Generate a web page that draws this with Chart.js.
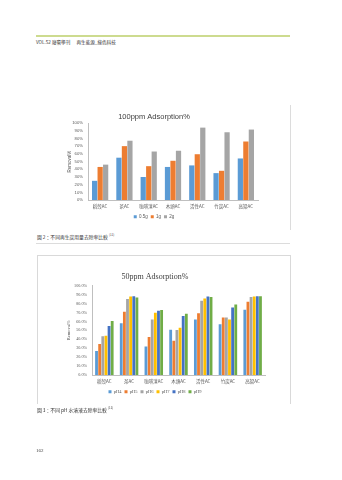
<!DOCTYPE html>
<html>
<head>
<meta charset="utf-8">
<script src="https://cdn.jsdelivr.net/npm/chart.js@4"></script>
<style>
  body { margin: 0; background: #fff; width: 342px; height: 480px; position: relative; overflow: hidden; font-family: "Noto Sans CJK TC", "Noto Sans", sans-serif; }
  .abs { position: absolute; }
  .hdr-line { left: 36px; top: 35px; width: 254px; height: 2px; background: #cddb8f; }
  .hdr { left: 36px; top: 39px; font-size: 4.6px; color: #333; white-space: nowrap; }
  .cap { font-size: 4.8px; color: #333; white-space: nowrap; }
  .cap sup { font-size: 3px; }
  .box2 { left: 37px; top: 255px; width: 252px; height: 148px; border: 1px solid #d9d9d9; border-bottom: none; }
  .vline1 { left: 290px; top: 105px; width: 1px; height: 125px; background: #dcdcdc; }
  .hline1 { left: 36px; top: 243px; width: 254px; height: 1px; background: #dcdcdc; }
  .pg { left: 36px; top: 448px; font-size: 5px; color: #444; font-family: "Liberation Serif", serif; }
</style>
</head>
<body>
<div class="abs hdr-line"></div>
<div class="abs hdr">VOL.52 廢棄學刊 &nbsp;&nbsp;&nbsp;&nbsp; 再生能源_綠色科技</div>

<div class="abs vline1"></div>
<div class="abs" style="left:50px;top:104px;width:228px;height:128px;"><canvas id="chart1"></canvas></div>
<div class="abs cap" style="left:37px;top:233px;">圖 2：不同再生炭用量去除率比較 <sup>[11]</sup></div>
<div class="abs hline1"></div>

<div class="abs box2"></div>
<div class="abs" style="left:45px;top:262px;width:238px;height:145px;"><canvas id="chart2"></canvas></div>
<div class="abs cap" style="left:37px;top:406px;">圖 3：不同 pH 水溶液去除率比較 <sup>[11]</sup></div>

<div class="abs pg">162</div>

<script>
const categories = ["稻殼AC", "茶AC", "咖啡渣AC", "木頭AC", "活性AC", "竹炭AC", "高粱AC"];

// chart 1: 100ppm, by dosage
const dose05 = [25, 55, 30, 43, 45, 35, 54];
const dose1 = [43, 70, 44, 51, 59.5, 38, 76];
const dose2 = [46, 77, 63, 64, 94, 88, 91.5];

// chart 2: 50ppm, by pH
const ph4 = [27, 58, 32, 50.7, 62, 56.7, 73];
const ph5 = [34.8, 70.7, 42.6, 38.5, 69, 64.4, 82];
const ph6 = [43.3, 85, 62, 50.4, 83, 64.4, 87.4];
const ph7 = [44, 87.8, 69.6, 53, 85.5, 62, 87.8];
const ph8 = [54.8, 88, 72, 66, 87.8, 75.5, 88];
const ph9 = [60.4, 86.7, 72.6, 68.5, 87.4, 79, 88];

const tickGray = "#595959";

function legendOpts(fam) {
  return {
    position: "bottom",
    labels: { boxWidth: 3, boxHeight: 3, padding: 3, color: tickGray, font: { size: 4.5, family: fam } }
  };
}

new Chart("chart1", {
  type: "bar",
  data: {
    labels: categories,
    datasets: [
      { label: "0.5g", data: dose05, backgroundColor: "#5b9bd5" },
      { label: "1g", data: dose1, backgroundColor: "#ed7d31" },
      { label: "2g", data: dose2, backgroundColor: "#a5a5a5" }
    ]
  },
  options: {
    responsive: true,
    maintainAspectRatio: false,
    animation: false,
    datasets: { bar: { categoryPercentage: 0.68, barPercentage: 0.95 } },
    layout: { padding: { right: 20, bottom: 3 } },
    plugins: {
      title: { display: true, text: "100ppm Adsorption%", color: "#404040", font: { size: 7.5, family: "Liberation Sans", weight: "normal" }, padding: { top: 8, bottom: 2 } },
      legend: legendOpts("Liberation Sans"),
      tooltip: { enabled: false }
    },
    scales: {
      x: {
        grid: { display: false, drawTicks: false },
        border: { color: "#bfbfbf" },
        ticks: { color: tickGray, font: { size: 4.5, family: "Noto Sans CJK TC" }, padding: 3, maxRotation: 0, autoSkip: false }
      },
      y: {
        min: 0, max: 100,
        afterFit: s => { s.width = 38; },
        grid: { display: false, drawTicks: false },
        border: { color: "#bfbfbf" },
        ticks: { stepSize: 10, autoSkip: false, color: tickGray, font: { size: 4.2, family: "Liberation Sans" }, padding: 5, callback: v => v + "%" },
        title: { display: true, text: "Removal%", color: tickGray, font: { size: 4.5, family: "Liberation Sans" }, padding: { top: 17, bottom: 0 } }
      }
    }
  }
});

new Chart("chart2", {
  type: "bar",
  data: {
    labels: categories,
    datasets: [
      { label: "pH4", data: ph4, backgroundColor: "#5b9bd5" },
      { label: "pH5", data: ph5, backgroundColor: "#ed7d31" },
      { label: "pH6", data: ph6, backgroundColor: "#a5a5a5" },
      { label: "pH7", data: ph7, backgroundColor: "#ffc000" },
      { label: "pH8", data: ph8, backgroundColor: "#4472c4" },
      { label: "pH9", data: ph9, backgroundColor: "#70ad47" }
    ]
  },
  options: {
    responsive: true,
    maintainAspectRatio: false,
    animation: false,
    datasets: { bar: { categoryPercentage: 0.76, barPercentage: 0.9 } },
    layout: { padding: { right: 18, bottom: 3 } },
    plugins: {
      title: { display: true, text: "50ppm Adsorption%", color: "#404040", font: { size: 8, family: "Liberation Serif", weight: "normal" }, padding: { top: 10, bottom: 4 } },
      legend: legendOpts("Liberation Serif"),
      tooltip: { enabled: false }
    },
    scales: {
      x: {
        grid: { display: false, drawTicks: false },
        border: { color: "#bfbfbf" },
        ticks: { color: tickGray, font: { size: 4.5, family: "Noto Sans CJK TC" }, padding: 3, maxRotation: 0, autoSkip: false }
      },
      y: {
        min: 0, max: 100,
        afterFit: s => { s.width = 47; },
        grid: { display: false, drawTicks: false },
        border: { color: "#bfbfbf" },
        ticks: { stepSize: 10, autoSkip: false, color: tickGray, font: { size: 4.2, family: "Liberation Serif" }, padding: 5, callback: v => v.toFixed(1) + "%" },
        title: { display: true, text: "Removal%", color: tickGray, font: { size: 4.5, family: "Liberation Serif" }, padding: { top: 21, bottom: 0 } }
      }
    }
  }
});
</script>
</body>
</html>
